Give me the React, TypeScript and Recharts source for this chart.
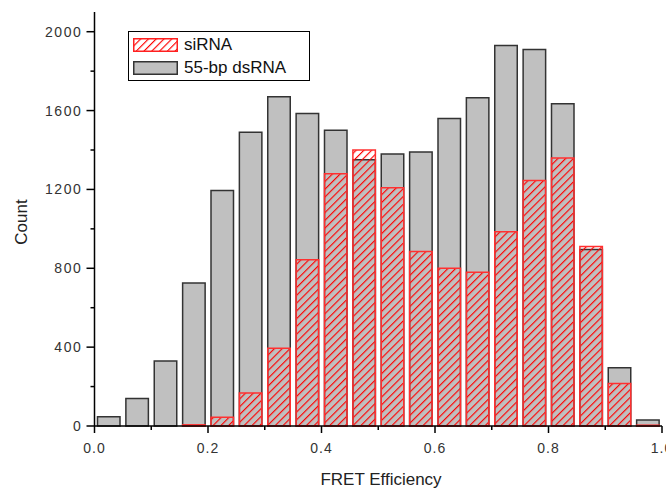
import React from 'react';
import { ComposedChart, Bar, XAxis, YAxis, Label } from 'recharts';

// bin centres of the FRET histogram (bin width 0.05)
const binCenters = [
    0.025, 0.075, 0.125, 0.175, 0.225, 0.275, 0.325, 0.375, 0.425, 0.475,
    0.525, 0.575, 0.625, 0.675, 0.725, 0.775, 0.825, 0.875, 0.925, 0.975
];
const dsRNACounts = [
    47, 140, 330, 725, 1195, 1490, 1670, 1585, 1500, 1350,
    1380, 1390, 1560, 1665, 1930, 1910, 1635, 895, 295, 30
];
const siRNACounts = [
    0, 0, 0, 6, 45, 168, 395, 843, 1280, 1400,
    1208, 885, 800, 780, 985, 1245, 1360, 910, 215, 4
];
const xTicks = [0, 0.1, 0.2, 0.3, 0.4, 0.5, 0.6, 0.7, 0.8, 0.9, 1.0];
const yTicks = [0, 200, 400, 600, 800, 1000, 1200, 1400, 1600, 1800, 2000];

const FONT = '"Liberation Sans", Arial, sans-serif';

const chartData = binCenters.map((c, i) => ({
    center: c,
    dsRNA: dsRNACounts[i],
    siRNA: siRNACounts[i],
}));

const XTick = (props: any) => {
    const { x, y, payload } = props;
    const major = Math.round(payload.value * 10) % 2 === 0;
    return (
        <g>
            <line x1={x} x2={x} y1={y} y2={y + (major ? 7 : 4)} stroke="#000" strokeWidth={1.5} />
            {major && (
                <text x={x} y={y + 27} textAnchor="middle" fontSize={14} letterSpacing={1} fill="#333" fontFamily={FONT}>
                    {payload.value.toFixed(1)}
                </text>
            )}
        </g>
    );
};

const YTick = (props: any) => {
    const { x, y, payload } = props;
    const major = payload.value % 400 === 0;
    return (
        <g>
            <line x1={x} x2={x - (major ? 8 : 4)} y1={y} y2={y} stroke="#000" strokeWidth={1.5} />
            {major && (
                <text x={x - 12} y={y + 5} textAnchor="end" fontSize={14} letterSpacing={1.6} fill="#333" fontFamily={FONT}>
                    {payload.value}
                </text>
            )}
        </g>
    );
};

const HatchSwatch = () => (
    <svg width={45} height={14} style={{ display: 'block' }}>
        <defs>
            <pattern id="legendHatch" patternUnits="userSpaceOnUse" width={5.5} height={5.5} patternTransform="rotate(45)">
                <line x1={0} y1={0} x2={0} y2={5.5} stroke="#ff0000" strokeWidth={2.3} />
            </pattern>
        </defs>
        <rect x={0.75} y={0.75} width={43.5} height={12.5} fill="url(#legendHatch)" stroke="#ff2020" strokeWidth={1.5} />
    </svg>
);

const GraySwatch = () => (
    <svg width={45} height={14} style={{ display: 'block' }}>
        <rect x={0.75} y={0.75} width={43.5} height={12.5} fill="#c0c0c0" stroke="#333" strokeWidth={1.5} />
    </svg>
);

export default function App() {
    return (
        <div style={{ position: 'absolute', left: 0, top: 0, width: 666, height: 489, background: '#fff' }}>
            <ComposedChart
                width={666}
                height={489}
                data={chartData}
                barGap={-22.5}
                margin={{ top: 12, right: 4, left: 0, bottom: 0 }}
            >
                <defs>
                    <pattern id="redHatch" patternUnits="userSpaceOnUse" width={5.5} height={5.5} patternTransform="rotate(45)">
                        <line x1={0} y1={0} x2={0} y2={5.5} stroke="#ff0000" strokeWidth={2.3} />
                    </pattern>
                </defs>
                <XAxis
                    dataKey="center"
                    type="number"
                    domain={[0, 1]}
                    ticks={xTicks}
                    interval={0}
                    height={63}
                    tickSize={0}
                    tickMargin={0}
                    tickLine={false}
                    axisLine={{ stroke: '#000', strokeWidth: 1.5 }}
                    tick={<XTick />}
                >
                    <Label
                        content={() => (
                            <text x={381} y={485} textAnchor="middle" fontSize={17} fill="#222" fontFamily={FONT}>
                                FRET Efficiency
                            </text>
                        )}
                    />
                </XAxis>
                <YAxis
                    width={94.5}
                    domain={[0, 2100]}
                    ticks={yTicks}
                    interval={0}
                    tickSize={0}
                    tickMargin={0}
                    tickLine={false}
                    axisLine={{ stroke: '#000', strokeWidth: 1.5 }}
                    tick={<YTick />}
                >
                    <Label
                        content={() => (
                            <text
                                x={27}
                                y={222}
                                transform="rotate(-90 27 222)"
                                textAnchor="middle"
                                fontSize={17}
                                fill="#222"
                                fontFamily={FONT}
                            >
                                Count
                            </text>
                        )}
                    />
                </YAxis>
                <Bar
                    dataKey="dsRNA"
                    barSize={22.5}
                    fill="#c0c0c0"
                    stroke="#333"
                    strokeWidth={1.5}
                    isAnimationActive={false}
                />
                <Bar
                    dataKey="siRNA"
                    barSize={22.5}
                    fill="url(#redHatch)"
                    stroke="#ff3030"
                    strokeWidth={1.5}
                    isAnimationActive={false}
                />
            </ComposedChart>
            <div
                style={{
                    position: 'absolute',
                    left: 128,
                    top: 31,
                    width: 180,
                    height: 48,
                    border: '1px solid #000',
                    background: '#fff',
                    fontFamily: FONT,
                    fontSize: 17,
                    color: '#111',
                }}
            >
                <div style={{ position: 'absolute', left: 4, top: 5, display: 'flex', alignItems: 'center', height: 16 }}>
                    <HatchSwatch />
                    <span style={{ marginLeft: 6 }}>siRNA</span>
                </div>
                <div style={{ position: 'absolute', left: 4, top: 28, display: 'flex', alignItems: 'center', height: 16 }}>
                    <GraySwatch />
                    <span style={{ marginLeft: 6 }}>55-bp dsRNA</span>
                </div>
            </div>
        </div>
    );
}
